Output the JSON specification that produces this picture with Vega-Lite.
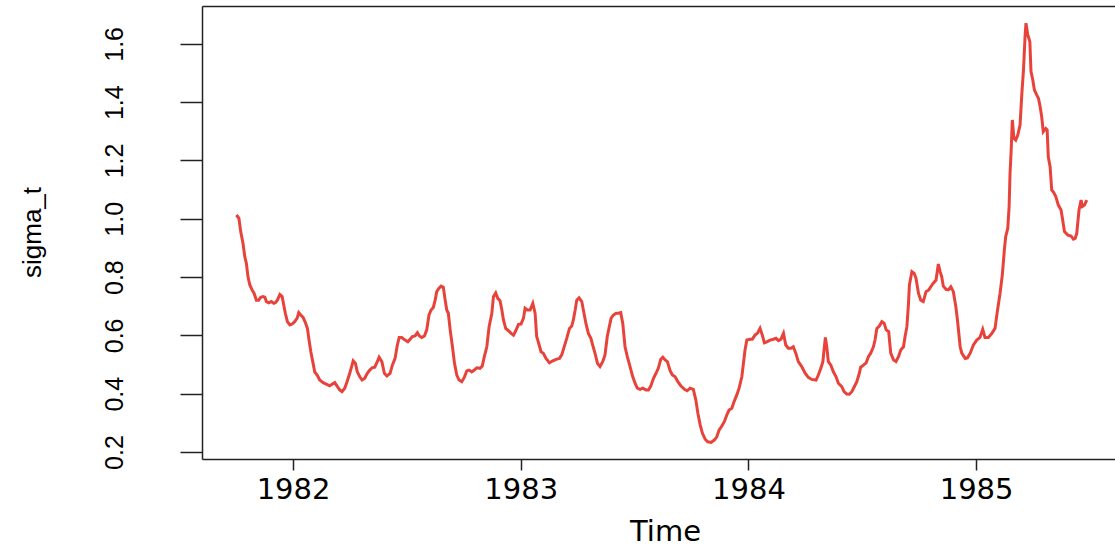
{
"$schema": "https://vega.github.io/schema/vega-lite/v6.json",
"width": 913, "height": 453,
"autosize": {"type": "none"},
"padding": {"left": 202, "top": 6, "right": 0, "bottom": 87},
"background": "white",
"config": {"view": {"stroke": null}, "axis": {"grid": false}},
"data": {"values": [
{"t":1981.751,"v":1.013},{"t":1981.762,"v":1.002},{"t":1981.770,"v":0.956},{"t":1981.780,"v":0.916},{"t":1981.788,"v":0.870},{"t":1981.795,"v":0.847},{"t":1981.802,"v":0.801},{"t":1981.810,"v":0.773},{"t":1981.820,"v":0.756},{"t":1981.829,"v":0.744},{"t":1981.839,"v":0.721},{"t":1981.849,"v":0.721},{"t":1981.858,"v":0.731},{"t":1981.868,"v":0.733},{"t":1981.876,"v":0.731},{"t":1981.883,"v":0.716},{"t":1981.893,"v":0.712},{"t":1981.905,"v":0.716},{"t":1981.915,"v":0.710},{"t":1981.922,"v":0.712},{"t":1981.931,"v":0.721},{"t":1981.942,"v":0.740},{"t":1981.952,"v":0.733},{"t":1981.959,"v":0.704},{"t":1981.966,"v":0.676},{"t":1981.975,"v":0.647},{"t":1981.986,"v":0.636},{"t":1981.996,"v":0.639},
{"t":1982.007,"v":0.647},{"t":1982.018,"v":0.659},{"t":1982.025,"v":0.678},{"t":1982.034,"v":0.670},{"t":1982.044,"v":0.662},{"t":1982.054,"v":0.644},{"t":1982.063,"v":0.624},{"t":1982.070,"v":0.584},{"t":1982.078,"v":0.544},{"t":1982.088,"v":0.504},{"t":1982.095,"v":0.475},{"t":1982.107,"v":0.462},{"t":1982.117,"v":0.447},{"t":1982.132,"v":0.438},{"t":1982.146,"v":0.433},{"t":1982.161,"v":0.427},{"t":1982.173,"v":0.433},{"t":1982.183,"v":0.438},{"t":1982.195,"v":0.424},{"t":1982.205,"v":0.413},{"t":1982.215,"v":0.407},{"t":1982.227,"v":0.419},{"t":1982.237,"v":0.441},{"t":1982.249,"v":0.470},{"t":1982.264,"v":0.513},{"t":1982.274,"v":0.504},{"t":1982.282,"v":0.475},{"t":1982.293,"v":0.458},{"t":1982.303,"v":0.447},{"t":1982.315,"v":0.453},{"t":1982.326,"v":0.470},{"t":1982.337,"v":0.481},{"t":1982.347,"v":0.489},{"t":1982.359,"v":0.491},{"t":1982.370,"v":0.510},{"t":1982.378,"v":0.525},{"t":1982.390,"v":0.510},{"t":1982.401,"v":0.470},{"t":1982.412,"v":0.461},{"t":1982.426,"v":0.470},{"t":1982.436,"v":0.498},{"t":1982.448,"v":0.521},{"t":1982.458,"v":0.567},{"t":1982.466,"v":0.593},{"t":1982.477,"v":0.593},{"t":1982.492,"v":0.584},{"t":1982.504,"v":0.578},{"t":1982.514,"v":0.587},{"t":1982.524,"v":0.596},{"t":1982.536,"v":0.598},{"t":1982.546,"v":0.609},{"t":1982.555,"v":0.598},{"t":1982.565,"v":0.593},{"t":1982.577,"v":0.598},{"t":1982.587,"v":0.619},{"t":1982.597,"v":0.670},{"t":1982.606,"v":0.687},{"t":1982.616,"v":0.696},{"t":1982.624,"v":0.721},{"t":1982.631,"v":0.750},{"t":1982.641,"v":0.762},{"t":1982.650,"v":0.769},{"t":1982.660,"v":0.765},{"t":1982.668,"v":0.721},{"t":1982.675,"v":0.687},{"t":1982.682,"v":0.676},{"t":1982.690,"v":0.619},{"t":1982.700,"v":0.561},{"t":1982.709,"v":0.504},{"t":1982.719,"v":0.464},{"t":1982.729,"v":0.447},{"t":1982.741,"v":0.441},{"t":1982.752,"v":0.456},{"t":1982.763,"v":0.478},{"t":1982.773,"v":0.481},{"t":1982.785,"v":0.475},{"t":1982.796,"v":0.481},{"t":1982.807,"v":0.489},{"t":1982.821,"v":0.487},{"t":1982.831,"v":0.495},{"t":1982.840,"v":0.527},{"t":1982.851,"v":0.561},{"t":1982.861,"v":0.630},{"t":1982.873,"v":0.676},{"t":1982.880,"v":0.733},{"t":1982.890,"v":0.746},{"t":1982.899,"v":0.727},{"t":1982.909,"v":0.719},{"t":1982.917,"v":0.687},{"t":1982.924,"v":0.653},{"t":1982.934,"v":0.624},{"t":1982.946,"v":0.616},{"t":1982.958,"v":0.607},{"t":1982.968,"v":0.601},{"t":1982.978,"v":0.616},{"t":1982.990,"v":0.638},
{"t":1983.001,"v":0.639},{"t":1983.012,"v":0.659},{"t":1983.019,"v":0.693},{"t":1983.029,"v":0.687},{"t":1983.041,"v":0.687},{"t":1983.053,"v":0.710},{"t":1983.063,"v":0.676},{"t":1983.070,"v":0.596},{"t":1983.081,"v":0.567},{"t":1983.089,"v":0.544},{"t":1983.099,"v":0.539},{"t":1983.111,"v":0.521},{"t":1983.126,"v":0.506},{"t":1983.141,"v":0.513},{"t":1983.155,"v":0.518},{"t":1983.170,"v":0.521},{"t":1983.180,"v":0.533},{"t":1983.190,"v":0.559},{"t":1983.202,"v":0.590},{"t":1983.214,"v":0.624},{"t":1983.224,"v":0.632},{"t":1983.231,"v":0.653},{"t":1983.239,"v":0.687},{"t":1983.246,"v":0.721},{"t":1983.256,"v":0.729},{"t":1983.268,"v":0.716},{"t":1983.275,"v":0.687},{"t":1983.286,"v":0.642},{"t":1983.297,"v":0.607},{"t":1983.308,"v":0.590},{"t":1983.316,"v":0.567},{"t":1983.326,"v":0.539},{"t":1983.337,"v":0.504},{"t":1983.348,"v":0.493},{"t":1983.360,"v":0.510},{"t":1983.370,"v":0.533},{"t":1983.380,"v":0.596},{"t":1983.389,"v":0.630},{"t":1983.397,"v":0.659},{"t":1983.407,"v":0.670},{"t":1983.419,"v":0.676},{"t":1983.429,"v":0.676},{"t":1983.439,"v":0.678},{"t":1983.448,"v":0.642},{"t":1983.458,"v":0.561},{"t":1983.468,"v":0.527},{"t":1983.480,"v":0.493},{"t":1983.492,"v":0.458},{"t":1983.502,"v":0.436},{"t":1983.512,"v":0.419},{"t":1983.524,"v":0.415},{"t":1983.536,"v":0.419},{"t":1983.550,"v":0.413},{"t":1983.561,"v":0.413},{"t":1983.571,"v":0.426},{"t":1983.583,"v":0.453},{"t":1983.594,"v":0.470},{"t":1983.604,"v":0.487},{"t":1983.615,"v":0.518},{"t":1983.624,"v":0.525},{"t":1983.634,"v":0.516},{"t":1983.644,"v":0.510},{"t":1983.656,"v":0.479},{"t":1983.666,"v":0.464},{"t":1983.678,"v":0.458},{"t":1983.690,"v":0.441},{"t":1983.704,"v":0.426},{"t":1983.719,"v":0.415},{"t":1983.731,"v":0.410},{"t":1983.744,"v":0.419},{"t":1983.758,"v":0.415},{"t":1983.769,"v":0.378},{"t":1983.778,"v":0.333},{"t":1983.788,"v":0.293},{"t":1983.798,"v":0.264},{"t":1983.810,"v":0.244},{"t":1983.821,"v":0.235},{"t":1983.836,"v":0.233},{"t":1983.850,"v":0.241},{"t":1983.861,"v":0.252},{"t":1983.871,"v":0.275},{"t":1983.883,"v":0.289},{"t":1983.894,"v":0.304},{"t":1983.905,"v":0.327},{"t":1983.915,"v":0.344},{"t":1983.927,"v":0.350},{"t":1983.937,"v":0.373},{"t":1983.949,"v":0.396},{"t":1983.959,"v":0.419},{"t":1983.971,"v":0.458},{"t":1983.978,"v":0.504},{"t":1983.985,"v":0.550},{"t":1983.993,"v":0.584},
{"t":1984.007,"v":0.587},{"t":1984.017,"v":0.587},{"t":1984.029,"v":0.601},{"t":1984.041,"v":0.609},{"t":1984.051,"v":0.624},{"t":1984.061,"v":0.601},{"t":1984.070,"v":0.575},{"t":1984.081,"v":0.578},{"t":1984.095,"v":0.584},{"t":1984.110,"v":0.587},{"t":1984.121,"v":0.590},{"t":1984.132,"v":0.582},{"t":1984.143,"v":0.587},{"t":1984.154,"v":0.607},{"t":1984.164,"v":0.567},{"t":1984.175,"v":0.556},{"t":1984.187,"v":0.556},{"t":1984.197,"v":0.561},{"t":1984.208,"v":0.539},{"t":1984.219,"v":0.510},{"t":1984.234,"v":0.493},{"t":1984.249,"v":0.470},{"t":1984.263,"v":0.456},{"t":1984.278,"v":0.449},{"t":1984.297,"v":0.447},{"t":1984.307,"v":0.464},{"t":1984.318,"v":0.487},{"t":1984.327,"v":0.510},{"t":1984.332,"v":0.550},{"t":1984.338,"v":0.593},{"t":1984.344,"v":0.561},{"t":1984.351,"v":0.510},{"t":1984.362,"v":0.498},{"t":1984.373,"v":0.475},{"t":1984.385,"v":0.458},{"t":1984.395,"v":0.436},{"t":1984.410,"v":0.424},{"t":1984.420,"v":0.407},{"t":1984.432,"v":0.399},{"t":1984.443,"v":0.398},{"t":1984.454,"v":0.407},{"t":1984.465,"v":0.424},{"t":1984.476,"v":0.441},{"t":1984.487,"v":0.470},{"t":1984.493,"v":0.491},{"t":1984.505,"v":0.498},{"t":1984.517,"v":0.506},{"t":1984.527,"v":0.527},{"t":1984.537,"v":0.539},{"t":1984.549,"v":0.561},{"t":1984.556,"v":0.584},{"t":1984.564,"v":0.624},{"t":1984.575,"v":0.632},{"t":1984.586,"v":0.647},{"t":1984.596,"v":0.642},{"t":1984.605,"v":0.619},{"t":1984.616,"v":0.613},{"t":1984.625,"v":0.539},{"t":1984.637,"v":0.516},{"t":1984.648,"v":0.510},{"t":1984.659,"v":0.527},{"t":1984.669,"v":0.550},{"t":1984.681,"v":0.561},{"t":1984.688,"v":0.596},{"t":1984.696,"v":0.630},{"t":1984.703,"v":0.710},{"t":1984.707,"v":0.773},{"t":1984.718,"v":0.819},{"t":1984.728,"v":0.813},{"t":1984.736,"v":0.796},{"t":1984.747,"v":0.744},{"t":1984.757,"v":0.721},{"t":1984.768,"v":0.716},{"t":1984.780,"v":0.750},{"t":1984.792,"v":0.756},{"t":1984.801,"v":0.767},{"t":1984.812,"v":0.779},{"t":1984.824,"v":0.790},{"t":1984.834,"v":0.845},{"t":1984.842,"v":0.819},{"t":1984.849,"v":0.801},{"t":1984.856,"v":0.769},{"t":1984.868,"v":0.758},{"t":1984.878,"v":0.756},{"t":1984.889,"v":0.767},{"t":1984.900,"v":0.750},{"t":1984.911,"v":0.698},{"t":1984.918,"v":0.653},{"t":1984.930,"v":0.561},{"t":1984.937,"v":0.539},{"t":1984.952,"v":0.521},{"t":1984.962,"v":0.523},{"t":1984.974,"v":0.539},{"t":1984.988,"v":0.567},
{"t":1985.003,"v":0.584},{"t":1985.017,"v":0.593},{"t":1985.029,"v":0.621},{"t":1985.039,"v":0.593},{"t":1985.054,"v":0.593},{"t":1985.069,"v":0.607},{"t":1985.083,"v":0.624},{"t":1985.093,"v":0.681},{"t":1985.105,"v":0.744},{"t":1985.115,"v":0.807},{"t":1985.124,"v":0.893},{"t":1985.130,"v":0.939},{"t":1985.139,"v":0.967},{"t":1985.145,"v":1.042},{"t":1985.149,"v":1.156},{"t":1985.154,"v":1.236},{"t":1985.159,"v":1.339},{"t":1985.166,"v":1.276},{"t":1985.174,"v":1.270},{"t":1985.183,"v":1.287},{"t":1985.193,"v":1.322},{"t":1985.201,"v":1.431},{"t":1985.208,"v":1.510},{"t":1985.215,"v":1.625},{"t":1985.219,"v":1.671},{"t":1985.227,"v":1.631},{"t":1985.236,"v":1.608},{"t":1985.241,"v":1.505},{"t":1985.249,"v":1.476},{"t":1985.256,"v":1.442},{"t":1985.266,"v":1.425},{"t":1985.274,"v":1.413},{"t":1985.281,"v":1.385},{"t":1985.288,"v":1.350},{"t":1985.295,"v":1.299},{"t":1985.306,"v":1.310},{"t":1985.312,"v":1.305},{"t":1985.317,"v":1.213},{"t":1985.325,"v":1.179},{"t":1985.332,"v":1.099},{"t":1985.341,"v":1.090},{"t":1985.350,"v":1.076},{"t":1985.361,"v":1.047},{"t":1985.373,"v":1.030},{"t":1985.379,"v":1.002},{"t":1985.388,"v":0.956},{"t":1985.403,"v":0.944},{"t":1985.417,"v":0.941},{"t":1985.427,"v":0.930},{"t":1985.435,"v":0.933},{"t":1985.442,"v":0.950},{"t":1985.452,"v":1.030},{"t":1985.461,"v":1.064},{"t":1985.467,"v":1.042},{"t":1985.476,"v":1.047},{"t":1985.486,"v":1.064}
]},
"layer": [
{
"mark": {"type": "line", "strokeOpacity": 0},
"encoding": {
"x": {"field": "t", "type": "quantitative",
"axis": {"orient": "top", "labels": false, "ticks": false, "title": null, "domainColor": "#222222", "domainWidth": 1.5}}
}
},
{
"mark": {"type": "line", "color": "#E8433A", "strokeWidth": 3, "clip": true},
"encoding": {
"x": {"field": "t", "type": "quantitative",
"scale": {"domain": [1981.6, 1985.61], "nice": false, "zero": false},
"axis": {"orient": "bottom", "values": [1982, 1983, 1984, 1985], "format": "d", "title": "Time",
"domainColor": "#222222", "domainWidth": 1.5, "tickColor": "#222222", "tickWidth": 1.5, "tickSize": 11,
"labelFont": "DejaVu Sans", "labelFontSize": 29, "labelColor": "#000000", "labelPadding": 28, "labelBaseline": "alphabetic", "labelFlush": false, "labelOverlap": false,
"titleFont": "DejaVu Sans", "titleFontSize": 29, "titleFontWeight": "normal", "titleColor": "#000000",
"titleX": 463, "titleY": 81, "titleBaseline": "alphabetic", "titleAlign": "center", "titleAnchor": null}},
"y": {"field": "v", "type": "quantitative",
"scale": {"domain": [0.176, 1.73], "nice": false, "zero": false},
"axis": {"orient": "left", "values": [0.2, 0.4, 0.6, 0.8, 1.0, 1.2, 1.4, 1.6], "format": ".1f", "title": "sigma_t",
"domainColor": "#222222", "domainWidth": 1.5, "tickColor": "#222222", "tickWidth": 1.5, "tickSize": 22,
"labelFont": "Liberation Sans", "labelFontSize": 25, "labelColor": "#000000", "labelAngle": -90, "labelAlign": "center", "labelBaseline": "alphabetic", "labelPadding": 58, "labelFlush": false, "labelOverlap": false,
"titleFont": "Liberation Sans", "titleFontSize": 26, "titleFontWeight": "normal", "titleColor": "#000000",
"titleAngle": -90, "titleX": -162, "titleY": 226, "titleBaseline": "alphabetic", "titleAlign": "center", "titleAnchor": null}}
}
}
]
}
